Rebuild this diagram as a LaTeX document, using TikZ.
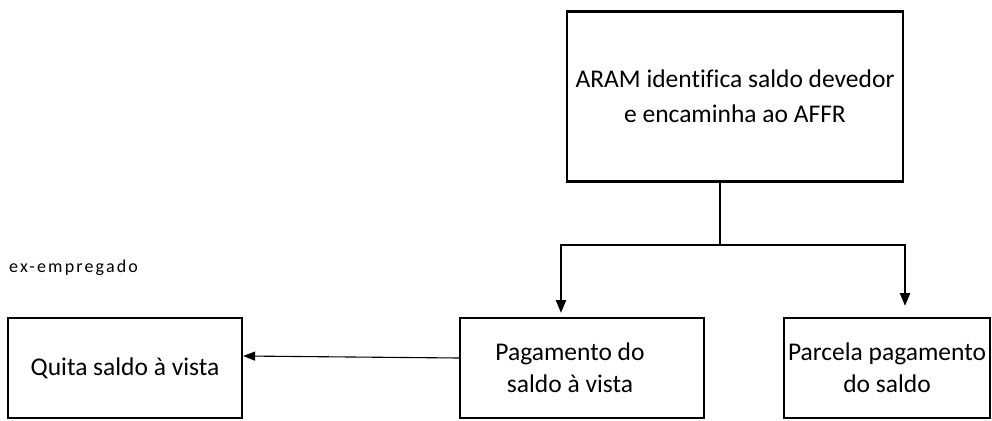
\documentclass[tikz,border=0pt]{standalone}
\usepackage{fontspec}
\setmainfont[Ligatures=NoCommon]{Carlito}
\usetikzlibrary{arrows.meta,calc}
\begin{document}
\begin{tikzpicture}[x=1pt,y=-1pt,
  box/.style={draw=black,line width=2.2pt,rectangle,align=center,inner sep=0pt,font=\fontsize{25.5}{35}\selectfont},
  conn/.style={line width=2.4pt,-{Triangle[length=13pt,width=10pt]}},
  thin/.style={line width=1.1pt,-{Triangle[length=12pt,width=9pt]}}]
\useasboundingbox (0,0) rectangle (992,420);
\node[box,minimum width=336pt,minimum height=170pt] (top) at (735,96.5) {ARAM identifica saldo devedor\\e encaminha ao AFFR};
\node[box,minimum width=244pt,minimum height=100pt,font=\fontsize{25.5}{32}\selectfont] (pag) at (582,368) {Pagamento do\hspace*{24pt}\\saldo à vista\hspace*{24pt}};
\node[box,minimum width=206pt,minimum height=100pt,font=\fontsize{25.5}{32}\selectfont] (parc) at (887,368) {Parcela pagamento\\do saldo};
\node[box,minimum width=234pt,minimum height=100pt] (quita) at (125,368) {Quita saldo à vista};
\node[anchor=west,inner sep=0pt,font=\fontsize{18}{20}\selectfont\addfontfeatures{LetterSpace=12}] (ex) at (9,268) {ex-empregado};
\coordinate (j) at (720,245);
\coordinate (lt) at (561,313);
\coordinate (rt) at (905,306);
\draw[line width=2.4pt] (top.south -| j) -- (j);
\draw[conn] (j) -| (lt);
\draw[conn] (j) -| (rt);
\draw[thin] (pag.west |- 0,358) -- (quita.east |- 0,356);
\end{tikzpicture}
\end{document}
